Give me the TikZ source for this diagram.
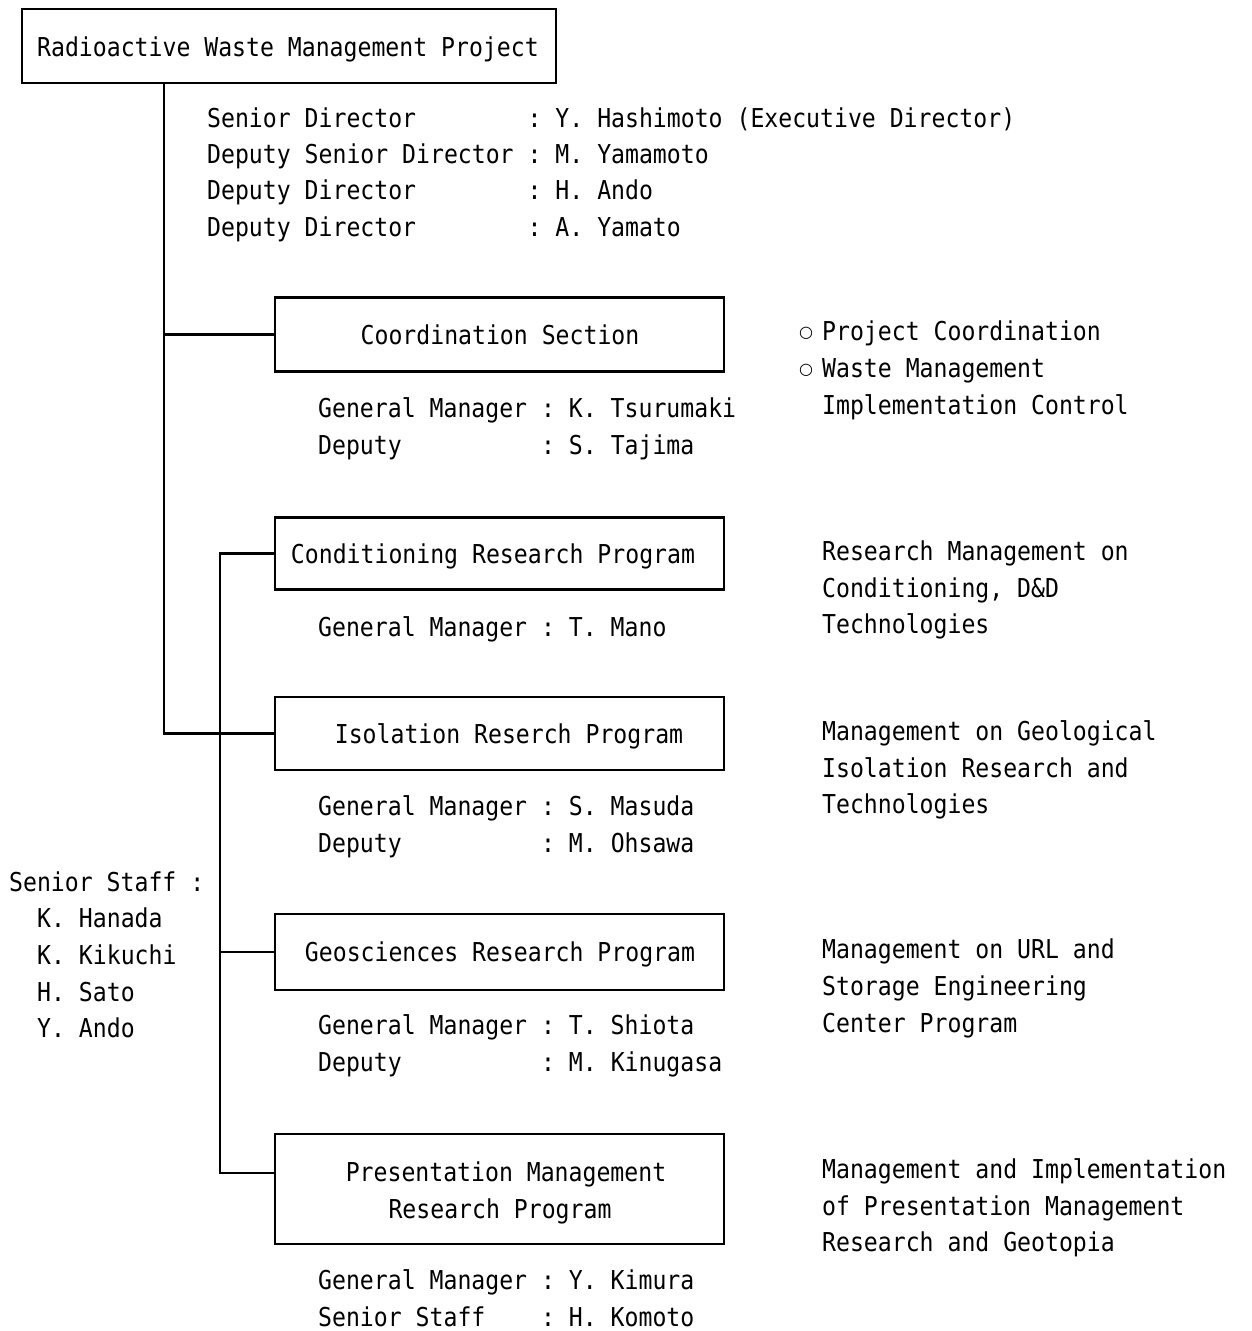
\documentclass[tikz,border=0pt]{standalone}
\usepackage{fontspec}
\newfontfamily\monof[FakeStretch=0.89]{DejaVu Sans Mono}
\newfontfamily\symf{DejaVu Sans}
\newcommand{\circmark}{\makebox[23pt][l]{\raisebox{3pt}{\symf\fontsize{16}{16}\selectfont ○}}}
\tikzset{
  txt/.style={font=\monof\fontsize{26}{30}\selectfont\frenchspacing, inner sep=0pt, anchor=base west},
  ctxt/.style={txt, anchor=base},
  box/.style={draw, line width=2.6pt, inner sep=0pt, minimum width=449pt},
  conn/.style={line width=2.2pt},
}
\begin{document}
\begin{tikzpicture}[x=1pt,y=-1pt]
\useasboundingbox (0,0) rectangle (1251,1331);
% boxes
\node[box, minimum width=534pt, minimum height=74pt] (top) at (289,46) {};
\node[box, minimum height=74pt] (coord) at (499.5,334.5) {};
\node[box, minimum height=72pt] (cond) at (499.5,553.5) {};
\node[box, minimum height=73pt] (iso) at (499.5,733.5) {};
\node[box, minimum height=76pt] (geo) at (499.5,952) {};
\node[box, minimum height=110pt] (pres) at (499.5,1189) {};
% box labels
\node[txt] (topl) at (37,56) {Radioactive Waste Management Project};
\node[ctxt] (coordl) at (500,344) {Coordination Section};
\node[ctxt] (condl) at (493,563) {Conditioning Research Program};
\node[ctxt] (isol) at (509,743) {Isolation Reserch Program};
\node[ctxt] (geol) at (500,961) {Geosciences Research Program};
\node[ctxt] (presl1) at (506,1181) {Presentation Management};
\node[ctxt] (presl2) at (500,1218) {Research Program};
% connectors
\coordinate (tx) at (164,0);
\coordinate (sx) at (220,0);
\coordinate (presj) at ([yshift=16pt]pres.west);
\draw[conn] (top.south -| tx) |- (iso.west);
\draw[conn] (tx |- coord.west) -- (coord.west);
\draw[conn] (cond.west) -| (sx |- presj) -- (presj);
\draw[conn] (sx |- geo.west) -- (geo.west);
% directors
\node[txt] (d1) at (207,127) {Senior Director~~~~~~~~: Y. Hashimoto (Executive Director)};
\node[txt] (d2) at (207,163) {Deputy Senior Director : M. Yamamoto};
\node[txt] (d3) at (207,199) {Deputy Director~~~~~~~~: H. Ando};
\node[txt] (d4) at (207,236) {Deputy Director~~~~~~~~: A. Yamato};
% managers
\node[txt] (c1) at (318,417) {General Manager : K. Tsurumaki};
\node[txt] (c2) at (318,454) {Deputy~~~~~~~~~~: S. Tajima};
\node[txt] (n1) at (318,636) {General Manager : T. Mano};
\node[txt] (i1) at (318,815) {General Manager : S. Masuda};
\node[txt] (i2) at (318,852) {Deputy~~~~~~~~~~: M. Ohsawa};
\node[txt] (g1) at (318,1034) {General Manager : T. Shiota};
\node[txt] (g2) at (318,1071) {Deputy~~~~~~~~~~: M. Kinugasa};
\node[txt] (p1) at (318,1289) {General Manager : Y. Kimura};
\node[txt] (p2) at (318,1326) {Senior Staff~~~~: H. Komoto};
% senior staff
\node[txt] (s0) at (9,891) {Senior Staff :};
\node[txt] (s1) at (37,927) {K. Hanada};
\node[txt] (s2) at (37,964) {K. Kikuchi};
\node[txt] (s3) at (37,1001) {H. Sato};
\node[txt] (s4) at (37,1037) {Y. Ando};
% right column
\node[txt] (r1) at (799,340) {\circmark Project Coordination};
\node[txt] (r2) at (799,377) {\circmark Waste Management};
\node[txt] (r3) at (822,414) {Implementation Control};
\node[txt] (r4) at (822,560) {Research Management on};
\node[txt] (r5) at (822,597) {Conditioning, D\&D};
\node[txt] (r6) at (822,633) {Technologies};
\node[txt] (r7) at (822,740) {Management on Geological};
\node[txt] (r8) at (822,777) {Isolation Research and};
\node[txt] (r9) at (822,813) {Technologies};
\node[txt] (r10) at (822,958) {Management on URL and};
\node[txt] (r11) at (822,995) {Storage Engineering};
\node[txt] (r12) at (822,1032) {Center Program};
\node[txt] (r13) at (822,1178) {Management and Implementation};
\node[txt] (r14) at (822,1215) {of Presentation Management};
\node[txt] (r15) at (822,1251) {Research and Geotopia};
\end{tikzpicture}
\end{document}
